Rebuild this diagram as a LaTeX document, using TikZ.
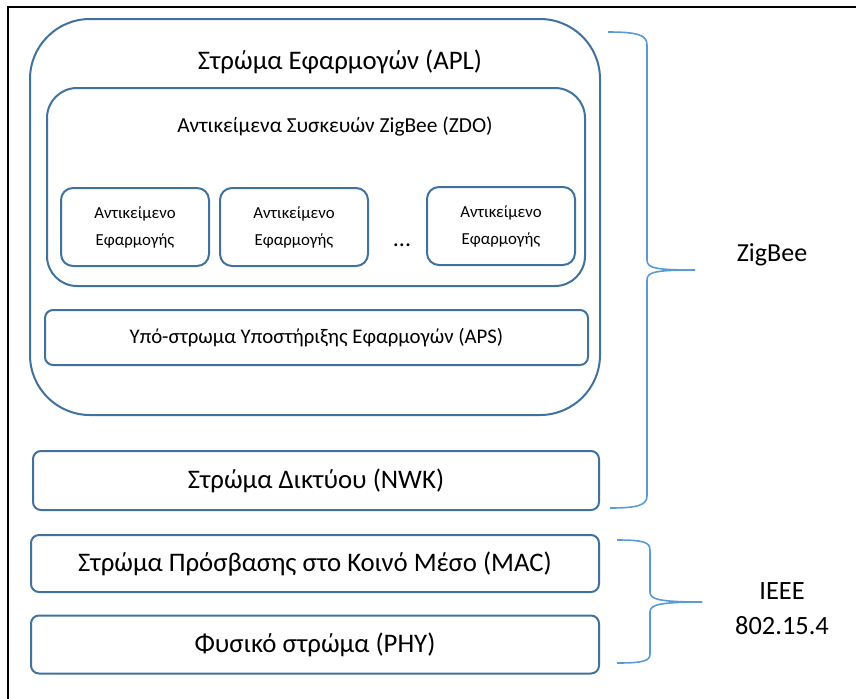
\documentclass[tikz,border=0pt]{standalone}
\usepackage{fontspec}
\setmainfont{Carlito}
\definecolor{boxblue}{HTML}{41719C}
\definecolor{braceblue}{HTML}{5B9BD5}

\begin{document}
\begin{tikzpicture}[x=0.5pt, y=-0.5pt,
    layer/.style={draw=boxblue, line width=1pt, rounded corners=4pt, inner sep=0pt},
    appobj/.style={layer, rounded corners=6pt, minimum width=74pt, minimum height=39pt,
        align=center, font=\fontsize{8.4}{13.5}\selectfont},
    bigtext/.style={font=\fontsize{13.4}{15}\selectfont},
    brace/.style={draw=braceblue, line width=0.8pt}]
    \useasboundingbox (0, 0) rectangle (856, 698);
    \draw[line width=1.2pt] (8, 7) rectangle (880, 720);

    \node[layer, rounded corners=30pt, minimum width=285pt, minimum height=198pt] (apl) at (315, 217) {};
    \node[bigtext] (apltitle) at (340, 62) {Στρώμα Εφαρμογών (APL)};
    \node[layer, rounded corners=15pt, minimum width=269pt, minimum height=99pt] (zdo) at (316, 187) {};
    \node[font=\fontsize{10.7}{12}\selectfont] (zdotitle) at (335, 127) {Αντικείμενα Συσκευών ZigBee (ZDO)};
    \node[appobj] (app1) at (135, 227) {Αντικείμενο\\Εφαρμογής};
    \node[appobj] (app2) at (294, 227) {Αντικείμενο\\Εφαρμογής};
    \node[appobj] (app3) at (501, 226) {Αντικείμενο\\Εφαρμογής};
    \node[font=\fontsize{12}{14}\selectfont] (dots) at (402, 245) {...};
    \node[layer, minimum width=271.5pt, minimum height=27.5pt, font=\fontsize{10.4}{12}\selectfont] (aps) at (316.5, 337.5) {Υπό-στρωμα Υποστήριξης Εφαρμογών (APS)};

    \node[layer, bigtext, minimum width=283pt, minimum height=29.5pt] (nwk) at (316, 480.5) {Στρώμα Δικτύου (NWK)};
    \node[layer, bigtext, minimum width=284pt, minimum height=28.5pt] (mac) at (315, 563.5) {Στρώμα Πρόσβασης στο Κοινό Μέσο (MAC)};
    \node[layer, bigtext, minimum width=284pt, minimum height=29pt] (phy) at (315, 644.5) {Φυσικό στρώμα (PHY)};

    \draw[brace] (608, 32) .. controls (638, 32) and (647, 35) .. (647, 45) -- (647, 260)
        .. controls (647, 268) and (655, 270) .. (695, 270);
    \draw[brace] (695, 270) .. controls (655, 270) and (647, 272) .. (647, 280) -- (647, 496)
        .. controls (647, 505) and (638, 508) .. (610, 508);
    \node[font=\fontsize{13}{15}\selectfont] (zigbee) at (772, 255) {ZigBee};

    \draw[brace] (617, 540) .. controls (643, 540) and (650, 542) .. (650, 550) -- (650, 592)
        .. controls (650, 599) and (658, 602) .. (702, 602);
    \draw[brace] (702, 602) .. controls (658, 602) and (650, 605) .. (650, 612) -- (650, 654)
        .. controls (650, 661) and (643, 663) .. (617, 663);
    \node[font=\fontsize{13.2}{17.5}\selectfont, align=center] (ieee) at (782, 609) {IEEE\\802.15.4};
\end{tikzpicture}
\end{document}
